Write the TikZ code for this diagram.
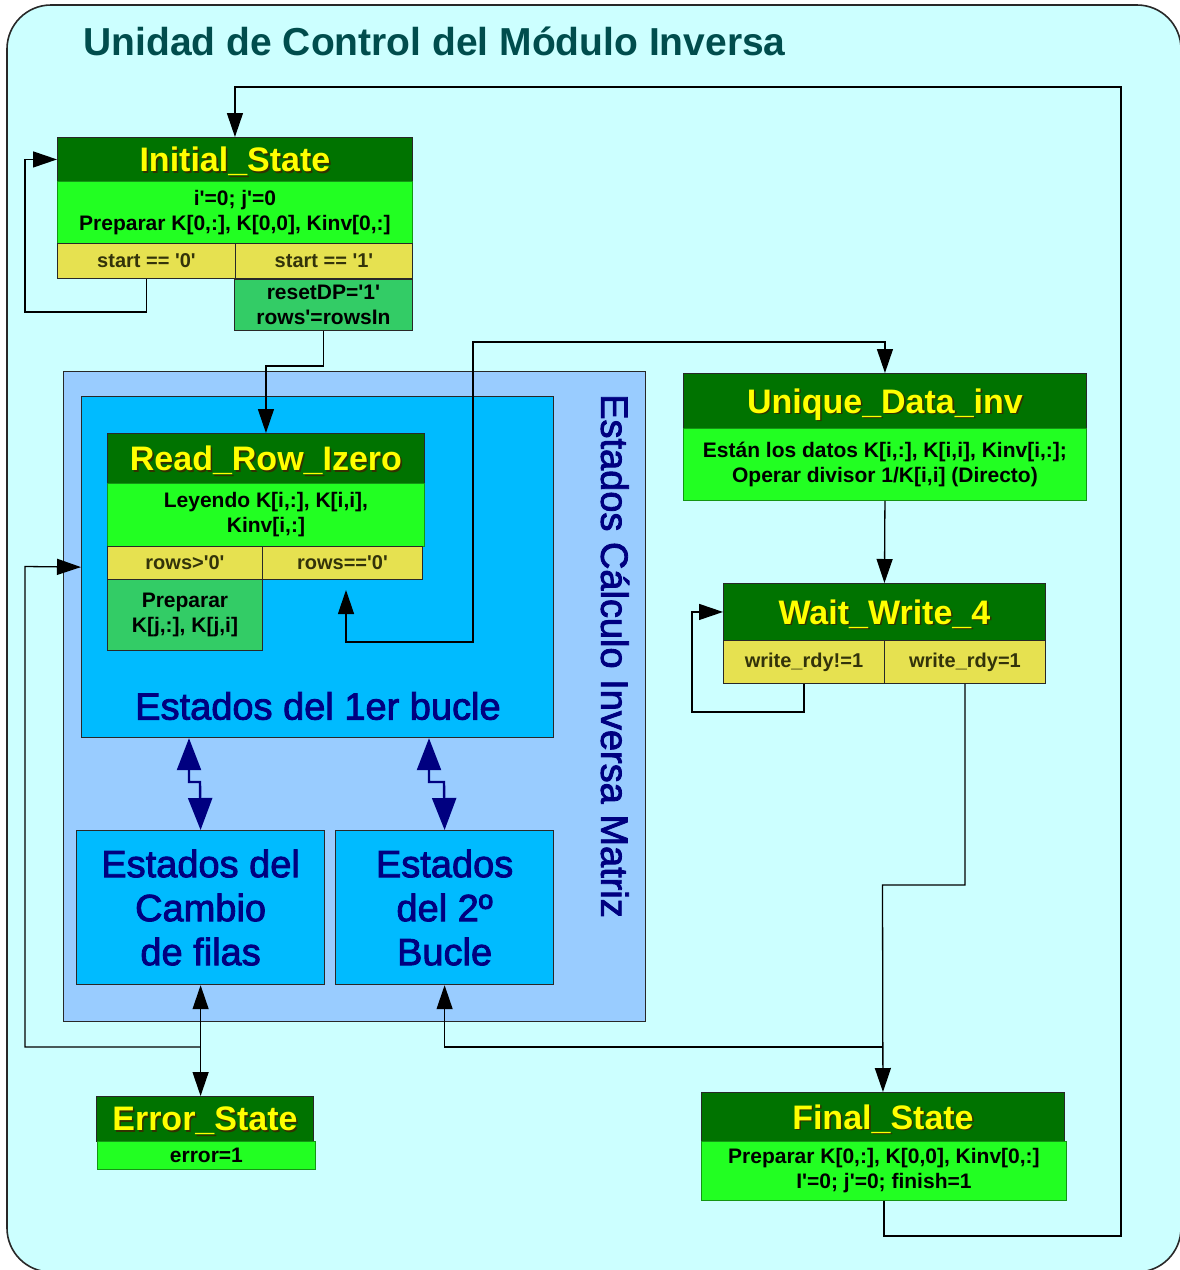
\documentclass[tikz,border=0pt]{standalone}
\usepackage{fontspec}
\setmainfont{Liberation Sans}
\newfontfamily\groupfont[FakeBold=2.2]{Liberation Sans}
\usetikzlibrary{arrows.meta,calc}

\definecolor{bgcyan}{RGB}{204,255,255}
\definecolor{calcblue}{RGB}{153,204,255}
\definecolor{loopblue}{RGB}{0,187,255}
\definecolor{hdrgreen}{RGB}{0,115,0}
\definecolor{bodygreen}{RGB}{34,255,34}
\definecolor{bodyedge}{RGB}{20,150,20}
\definecolor{condyellow}{RGB}{230,225,80}
\definecolor{condtext}{RGB}{51,51,10}
\definecolor{actgreen}{RGB}{51,204,102}
\definecolor{navytext}{RGB}{0,0,128}
\definecolor{titleteal}{RGB}{0,77,77}
\definecolor{hdryellow}{RGB}{255,255,0}
\definecolor{hdrshadow}{RGB}{50,50,0}
\definecolor{edgegray}{RGB}{40,40,40}

% yellow state name with a dark drop shadow
\newcommand\stname[1]{\rlap{\hspace{1.6pt}\raisebox{-1.6pt}{\color{hdrshadow}#1}}{\color{hdryellow}#1}}
\newcommand\tq{\textquotesingle}

\tikzset{
  cell/.style={draw=edgegray, line width=0.9, inner sep=0pt, anchor=north west, align=center},
  hdr/.style={cell, fill=hdrgreen, font=\bfseries\fontsize{34}{38}\selectfont, text depth=0pt},
  bodyc/.style={cell, fill=bodygreen, draw=bodyedge, font=\bfseries\fontsize{21}{25}\selectfont},
  cond/.style={cell, fill=condyellow, text=condtext, font=\bfseries\fontsize{20}{24}\selectfont},
  act/.style={cell, fill=actgreen, font=\bfseries\fontsize{21}{25}\selectfont},
  region/.style={draw=edgegray, line width=1.2, inner sep=0pt, anchor=north west, align=center,
    text=navytext, font=\groupfont\fontsize{38}{44}\selectfont},
  arr/.style={draw=black, line width=1.3, -{Triangle[length=24pt,width=16pt]}},
  arrboth/.style={draw=black, line width=1.3, {Triangle[length=24pt,width=16pt]}-{Triangle[length=24pt,width=16pt]}},
  navyarr/.style={draw=navytext, line width=2.4, {Triangle[length=32pt,width=24pt]}-{Triangle[length=32pt,width=24pt]}},
}

\begin{document}
\begin{tikzpicture}[x=1pt,y=-1pt]
\useasboundingbox (0,0) rectangle (1179,1270);
\fill[white] (0,0) rectangle (1179,1270);
% outer panel
\draw[fill=bgcyan, draw=edgegray, line width=1.6, rounded corners=44pt] (7,5) rectangle (1181,1272);

\node[anchor=base west, text=titleteal, font=\bfseries\fontsize{39}{44}\selectfont] (title) at (80,55)
  {Unidad de Control del Módulo Inversa};

% calculation states region
\node[region, fill=calcblue, minimum width=582, minimum height=650] (calc) at (63,371) {};
\node[rotate=-90, text=navytext, font=\groupfont\fontsize{38}{44}\selectfont] (calcLabel) at (615,656)
  {Estados Cálculo Inversa Matriz};
\node[region, fill=loopblue, minimum width=472, minimum height=341] (loop1) at (81,396) {};
\node[text=navytext, font=\groupfont\fontsize{38}{44}\selectfont] (loop1Label) at (318,706) {Estados del 1er bucle};
\node[region, fill=loopblue, minimum width=248, minimum height=154] (cambio) at (76,830)
  {Estados del\\Cambio\\de filas};
\node[region, fill=loopblue, minimum width=218, minimum height=154] (bucle2) at (335,830)
  {Estados\\del 2º\\Bucle};

% Initial_State
\node[hdr, minimum width=355, minimum height=44] (isHead) at (57,137) {\stname{Initial\_State}};
\node[bodyc, minimum width=355, minimum height=62] (isBody) at (57,181)
  {i\tq=0; j\tq=0\\Preparar K[0,:], K[0,0], Kinv[0,:]};
\node[cond, minimum width=178, minimum height=35] (isC0) at (57,243) {start == \tq0\tq};
\node[cond, minimum width=177, minimum height=35] (isC1) at (235,243) {start == \tq1\tq};
\node[act, minimum width=178, minimum height=51] (isAct) at (234,279) {resetDP=\tq1\tq\\rows\tq=rowsIn};

% Read_Row_Izero
\node[hdr, minimum width=317, minimum height=50] (rrHead) at (107,433) {\stname{Read\_Row\_Izero}};
\node[bodyc, minimum width=317, minimum height=63] (rrBody) at (107,483)
  {Leyendo K[i,:], K[i,i],\\Kinv[i,:]};
\node[cond, minimum width=155, minimum height=33] (rrC0) at (107,546) {rows>\tq0\tq};
\node[cond, minimum width=160, minimum height=33] (rrC1) at (262,546) {rows==\tq0\tq};
\node[act, minimum width=155, minimum height=71] (rrAct) at (107,579) {Preparar\\K[j,:], K[j,i]};

% Unique_Data_inv
\node[hdr, minimum width=403, minimum height=55] (udHead) at (683,373) {\stname{Unique\_Data\_inv}};
\node[bodyc, minimum width=403, minimum height=72] (udBody) at (683,428)
  {Están los datos K[i,:], K[i,i], Kinv[i,:];\\Operar divisor 1/K[i,i] (Directo)};

% Wait_Write_4
\node[hdr, minimum width=322, minimum height=57] (wwHead) at (723,583) {\stname{Wait\_Write\_4}};
\node[cond, minimum width=161, minimum height=43] (wwC0) at (723,640) {write\_rdy!=1};
\node[cond, minimum width=161, minimum height=43] (wwC1) at (884,640) {write\_rdy=1};

% Final_State
\node[hdr, minimum width=363, minimum height=49] (fsHead) at (701,1092) {\stname{Final\_State}};
\node[bodyc, minimum width=365, minimum height=59] (fsBody) at (701,1141)
  {Preparar K[0,:], K[0,0], Kinv[0,:]\\I\tq=0; j\tq=0; finish=1};

% Error_State
\node[hdr, minimum width=217, minimum height=45] (esHead) at (96,1096) {\stname{Error\_State}};
\node[bodyc, minimum width=218, minimum height=28] (esBody) at (97,1141) {error=1};

% junction points
\coordinate (rzTip) at (346,590);
\coordinate (jRight) at (882.5,1047);
\coordinate (jLeft) at (200,1047);

% transitions
\draw[arr] (isC0.south) |- (25,312) |- (isHead.west);
\draw[arr] (isAct.south) -- ++(0,35) -| (rrHead.north);
\draw[arrboth] (rzTip) |- (473,642) -- (473,342) -| (udHead.north);
\draw[arr] (udBody.south) -- (wwHead.north);
\draw[arr] (wwC0.south) |- (692,712) |- (wwHead.west);
\draw[arr] (wwC1.south) |- (882.5,885) -- (fsHead.north);
\draw[arr] (jRight) -| (bucle2.south);
\draw[arr] (fsBody.south) |- (1121,1236) -- (1121,87) -| (isHead.north);
\draw[arrboth] (cambio.south) -- (cambio.south |- esHead.north);
\draw[arr] (jLeft) -| (25,566.5) -- (loop1.west);

% links between the state groups
\draw[navyarr] (loop1.south -| 189,0) -- (189,782) -- (200,782) -- (cambio.north);
\draw[navyarr] (loop1.south -| 429,0) -- (429,782) -- (444,782) -- (bucle2.north);
\end{tikzpicture}
\end{document}
